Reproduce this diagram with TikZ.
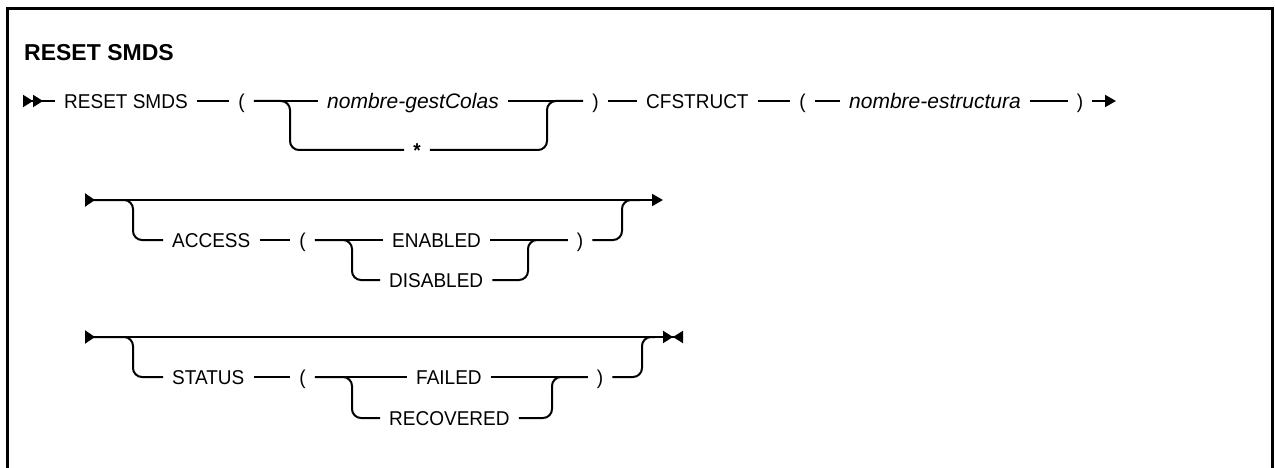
\documentclass[tikz,border=0pt]{standalone}
\usepackage{fontspec}
\setmainfont{Liberation Sans}
\newfontfamily\railfamily{Liberation Sans}[FakeStretch=0.95]
\usepackage{tikz}
\usetikzlibrary{
  arrows.meta,
  positioning
}
\newcommand{\railfont}{\railfamily\fontsize{20}{24}\selectfont}
\newcommand{\varfont}{\fontsize{21}{24}\selectfont\itshape}
\tikzset{
  rail/.style = {line width=2pt, rounded corners=9pt},
  tok/.style = {inner xsep=9pt, inner ysep=3pt, text height=14.3pt, text depth=0pt, font=\railfont},
  word/.style = {tok, anchor=west},
  var/.style = {word, font=\varfont},
  twostart/.style = {arrows={Triangle[reversed, length=10pt, width=12pt] Triangle[reversed, length=10pt, width=12pt]-}},
  startend/.style = {arrows={Triangle[reversed, length=10pt, width=13pt]-Triangle[length=11pt, width=12pt]}},
  oneend/.style = {arrows={-Triangle[length=11pt, width=12pt]}},
  startstop/.style = {arrows={Triangle[reversed, length=10pt, width=13pt]-Triangle[length=10pt, width=12pt] Triangle[reversed, length=10pt, width=12pt]}}
}

\begin{document}
\begin{tikzpicture}[x=1pt, y=-1pt]
    \useasboundingbox (0,0) rectangle (1275,468);

    % Frame, open at the bottom
    \draw[line width=3pt] (7.5,470) -- (7.5,8.5) -- (1272.5,8.5) -- (1272.5,470);

    % Title
    \node[anchor=west, inner sep=0pt, font=\fontsize{23}{27}\selectfont\bfseries]
        (title) at (24,53) {RESET SMDS};

    % Row 1
    \coordinate (s1) at (23,101);
    \coordinate (e1) at (1116,101);
    \node[word] (rs) at (55,101) {RESET SMDS};
    \node[tok] (lp1) at (241.5,101) {(};
    \node[var] (qmgr) at (318,101) {nombre-gestColas};
    \node[tok] (star) at (417,150) {\textbf{*}};
    \node[tok] (rp1) at (595.5,101) {)};
    \node[word] (cf) at (637,101) {CFSTRUCT};
    \node[tok] (lp2) at (802.5,101) {(};
    \node[var] (struc) at (840,101) {nombre-estructura};
    \node[tok] (rp2) at (1080,101) {)};
    \coordinate (q1) at (290,150);
    \coordinate (q2) at (547,101);

    \draw[rail, twostart] (s1) -- (rs.west);
    \draw[rail] (rs.east) -- (lp1.west);
    \draw[rail] (lp1.east) -- (qmgr.west);
    \draw[rail] (lp1.east) -| (q1) -- (star.west);
    \draw[rail] (qmgr.east) -- (rp1.west);
    \draw[rail] (star.east) -| (q2) -- (rp1.west);
    \draw[rail] (rp1.east) -- (cf.west);
    \draw[rail] (cf.east) -- (lp2.west);
    \draw[rail] (lp2.east) -- (struc.west);
    \draw[rail] (struc.east) -- (rp2.west);
    \draw[rail, oneend] (rp2.east) -- (e1);

    % Row 2: ACCESS
    \coordinate (s2) at (85,200);
    \coordinate (e2) at (663,200);
    \coordinate (j2) at (640,200);
    \node[word] (acc) at (163,240) {ACCESS};
    \node[tok] (lp3) at (302.5,240) {(};
    \node[word] (enab) at (383,240) {ENABLED};
    \node[word] (disab) at (380,280) {DISABLED};
    \node[tok] (rp3) at (580,240) {)};
    \coordinate (q3) at (133,240);
    \coordinate (q4) at (352,280);
    \coordinate (q5) at (528,240);
    \coordinate (q6) at (622,200);

    \draw[rail, startend] (s2) -- (e2);
    \draw[rail] (s2) -| (q3) -- (acc.west);
    \draw[rail] (acc.east) -- (lp3.west);
    \draw[rail] (lp3.east) -- (enab.west);
    \draw[rail] (lp3.east) -| (q4) -- (disab.west);
    \draw[rail] (enab.east) -- (rp3.west);
    \draw[rail] (disab.east) -| (q5) -- (rp3.west);
    \draw[rail] (rp3.east) -| (q6) -- (j2);

    % Row 3: STATUS
    \coordinate (s3) at (85,337);
    \coordinate (e3) at (683,337);
    \coordinate (j3) at (655,337);
    \node[word] (stat) at (163,377) {STATUS};
    \node[tok] (lp4) at (302.5,377) {(};
    \node[word] (fail) at (407,377) {FAILED};
    \node[word] (recov) at (380,418) {RECOVERED};
    \node[tok] (rp4) at (600,377) {)};
    \coordinate (q7) at (133,377);
    \coordinate (q8) at (352,418);
    \coordinate (q9) at (552,377);
    \coordinate (q10) at (642,337);

    \draw[rail, startstop] (s3) -- (e3);
    \draw[rail] (s3) -| (q7) -- (stat.west);
    \draw[rail] (stat.east) -- (lp4.west);
    \draw[rail] (lp4.east) -- (fail.west);
    \draw[rail] (lp4.east) -| (q8) -- (recov.west);
    \draw[rail] (fail.east) -- (rp4.west);
    \draw[rail] (recov.east) -| (q9) -- (rp4.west);
    \draw[rail] (rp4.east) -| (q10) -- (j3);

\end{tikzpicture}
\end{document}
